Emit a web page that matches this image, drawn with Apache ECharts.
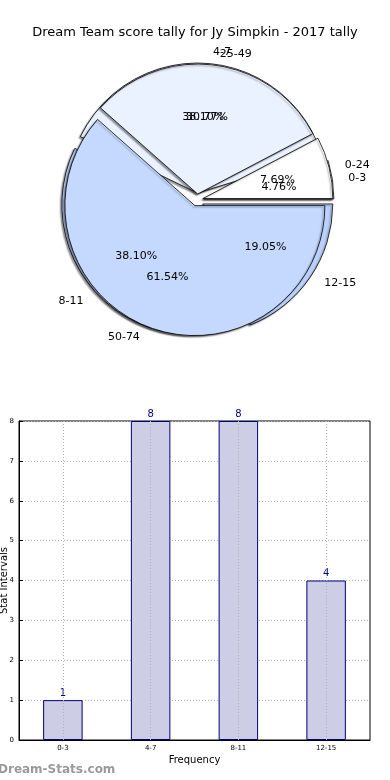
<!DOCTYPE html>
<html><head><meta charset="utf-8">
<script src="https://cdn.jsdelivr.net/npm/echarts@6/dist/echarts.min.js"></script>
<style>html,body{margin:0;padding:0;background:#fff}#c{width:390px;height:780px}</style>
</head><body><div id="c"></div>
<script>
const titleText = 'Dream Team score tally for Jy Simpkin - 2017 tally';
const pie1Names = ['0-24', '25-49', '50-74'];
const pie1Values = [1, 4, 8];
const pie2Names = ['0-3', '4-7', '8-11', '12-15'];
const pie2Values = [1, 8, 8, 4];
const barCategories = ['0-3', '4-7', '8-11', '12-15'];
const barValues = [1, 8, 8, 4];
const yTicks = [0, 1, 2, 3, 4, 5, 6, 7, 8];

const pie1Colors = ['#ffffff', '#eaf1ff', '#c5d9ff'];
const pie2Colors = ['#ffffff', '#eaf1ff', '#c5d9ff', '#b9d1fc'];
const FONT = 'DejaVu Sans';
const CX = 197, CY = 200, R = 130;

function pieData(names, values, colors, sel) {
  return names.map((n, i) => ({name: n, value: values[i], selected: sel, itemStyle: {color: colors[i]}}));
}
function shapeSeries(names, values, colors, offset, z) {
  return {
    type: 'pie', center: [CX, CY], radius: [0, R], startAngle: 0, clockwise: false,
    selectedMode: 'multiple', selectedOffset: offset, animation: false, silent: true, z: z,
    avoidLabelOverlap: false,
    labelLayout: {hideOverlap: false},
    data: pieData(names, values, colors, true),
    itemStyle: {borderColor: '#000', borderWidth: 0.8, shadowColor: 'rgba(0,0,0,0.4)', shadowBlur: 1.5, shadowOffsetX: -1.5, shadowOffsetY: 1.5},
    label: {show: true, position: 'outside', fontFamily: FONT, fontSize: 11, color: '#000', formatter: '{b}'},
    labelLine: {show: false, length: 11, length2: 0},
    emphasis: {disabled: true}
  };
}
function pctSeries(names, values, z) {
  const total = values.reduce((a, b) => a + b, 0);
  return {
    type: 'pie', center: [CX, CY], radius: [R * 0.2, R + 4], startAngle: 0, clockwise: false,
    animation: false, silent: true, z: z,
    avoidLabelOverlap: false,
    labelLayout: {hideOverlap: false},
    data: names.map((n, i) => ({name: n, value: values[i]})),
    itemStyle: {color: 'rgba(0,0,0,0)', borderWidth: 0},
    label: {show: true, position: 'inside', fontFamily: FONT, fontSize: 11, color: '#000',
      formatter: p => (p.value / total * 100).toFixed(2) + '%'},
    labelLine: {show: false},
    emphasis: {disabled: true}
  };
}

const chart = echarts.init(document.getElementById('c'), null, {renderer: 'canvas'});
chart.setOption({
  animation: false,
  title: {text: titleText, left: 'center', top: 21, textStyle: {fontFamily: FONT, fontSize: 13, fontWeight: 'normal', color: '#000'}},
  graphic: [{type: 'text', left: -2, top: 764, style: {text: 'Dream-Stats.com', fill: '#9a9a9a', font: 'bold 12px "DejaVu Sans"'}}],
  grid: {left: 19, right: 20, top: 421, bottom: 40, containLabel: false, outerBoundsMode: 'none',
    show: true, borderColor: '#000', borderWidth: 1, backgroundColor: 'transparent'},
  xAxis: {
    type: 'category', data: barCategories, name: 'Frequency', nameLocation: 'middle', nameGap: 15,
    nameMoveOverlap: false,
    nameTextStyle: {fontFamily: FONT, fontSize: 10, color: '#000'},
    axisLine: {lineStyle: {color: '#000'}},
    axisTick: {show: true, alignWithLabel: true, inside: true, length: 4, lineStyle: {color: '#000'}},
    axisLabel: {fontFamily: FONT, fontSize: 7, color: '#000', margin: 5},
    splitLine: {show: false}
  },
  yAxis: {
    type: 'value', min: yTicks[0], max: yTicks[yTicks.length - 1], interval: 1,
    name: 'Stat Intervals', nameLocation: 'middle', nameGap: 10, nameRotate: 90,
    nameMoveOverlap: false,
    nameTextStyle: {fontFamily: FONT, fontSize: 10, color: '#000'},
    axisLine: {show: true, lineStyle: {color: '#000'}},
    axisTick: {show: true, inside: true, length: 4, lineStyle: {color: '#000'}},
    axisLabel: {fontFamily: FONT, fontSize: 7, color: '#000', margin: 5},
    splitLine: {show: true, lineStyle: {color: '#b0b0b0', type: [1, 2], width: 1}}
  },
  series: [
    shapeSeries(pie2Names, pie2Values, pie2Colors, 7, 1),
    shapeSeries(pie1Names, pie1Values, pie1Colors, 6, 2),
    pctSeries(pie1Names, pie1Values, 3),
    pctSeries(pie2Names, pie2Values, 3),
    {
      type: 'bar', data: barValues, barWidth: '45%', z: 2,
      itemStyle: {color: '#cdcde5', borderColor: '#000080', borderWidth: 1},
      label: {show: true, position: 'top', distance: 2, fontFamily: FONT, fontSize: 10, color: '#000080'},
      markLine: {
        silent: true, symbol: 'none', label: {show: false},
        lineStyle: {color: '#b0b0b0', type: [1, 2], width: 1},
        data: barCategories.map(c => ({xAxis: c}))
      }
    }
  ]
});
</script></body></html>
